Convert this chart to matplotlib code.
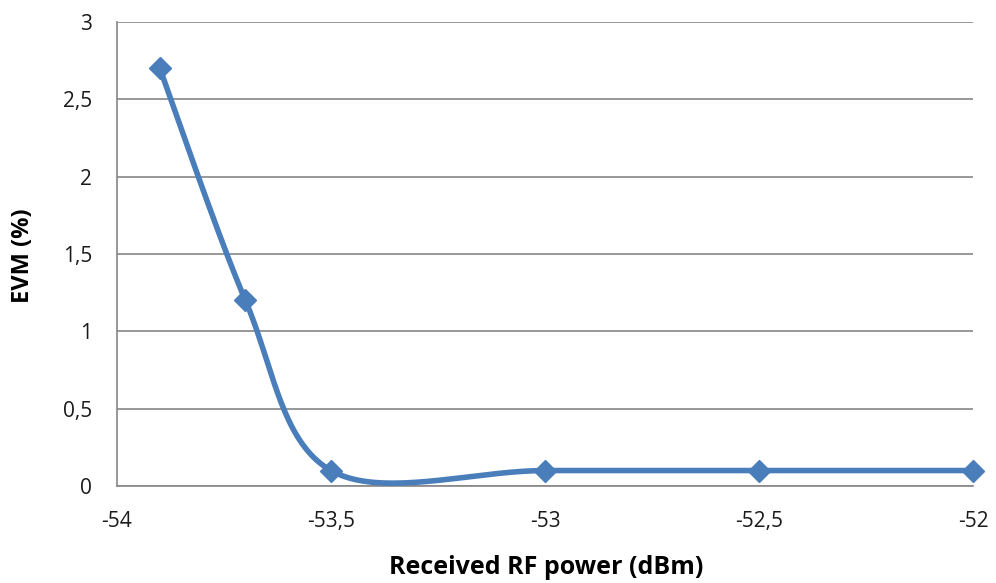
import numpy as np
import matplotlib
matplotlib.use("Agg")
import matplotlib.pyplot as plt

# data
power = [-53.9, -53.7, -53.5, -53.0, -52.5, -52.0]
evm = [2.7, 1.2, 0.1, 0.1, 0.1, 0.1]

xticks = [-54, -53.5, -53, -52.5, -52]
xlabels = ["-54", "-53,5", "-53", "-52,5", "-52"]
yticks = [0, 0.5, 1, 1.5, 2, 2.5, 3]
ylabels = ["0", "0,5", "1", "1,5", "2", "2,5", "3"]


def smooth(x, y, n=40):
    # Excel-like smoothed line: cubic bezier with catmull-rom control points
    p = np.column_stack([x, y]).astype(float)
    p = np.vstack([p[0], p, p[-1]])
    out = []
    t = np.linspace(0, 1, n)[:, None]
    for i in range(1, len(p) - 2):
        p0, p1, p2, p3 = p[i - 1], p[i], p[i + 1], p[i + 2]
        c1 = p1 + (p2 - p0) / 6
        c2 = p2 - (p3 - p1) / 6
        seg = ((1 - t) ** 3) * p1 + 3 * (1 - t) ** 2 * t * c1 + 3 * (1 - t) * t ** 2 * c2 + t ** 3 * p2
        out.append(seg)
    out = np.vstack(out)
    return out[:, 0], out[:, 1]


plt.rcParams['font.family'] = ['Open Sans', 'DejaVu Sans']

fig = plt.figure(figsize=(9.96, 5.83), dpi=100)
ax = fig.add_axes([117 / 996, 1 - 486 / 583, (973 - 117) / 996, (486 - 22) / 583])

blue = "#4a7ebb"
sx, sy = smooth(power, evm)
ax.plot(sx, sy, color=blue, lw=4, solid_capstyle="round", zorder=3)
ax.plot(power, evm, linestyle="none", marker="D", ms=11, color=blue, zorder=4, clip_on=False)

ax.set_xlim(-54, -52)
ax.set_ylim(0, 3)
ax.set_xticks(xticks)
ax.set_xticklabels(xlabels)
ax.set_yticks(yticks)
ax.set_yticklabels(ylabels)
ax.tick_params(length=0, labelsize=15, colors="#1a1a1a")
ax.tick_params(axis="x", pad=18)
ax.tick_params(axis="y", pad=18)

ax.grid(axis="y", color="#868686", lw=1.2)
ax.set_axisbelow(True)
for s in ["top", "right"]:
    ax.spines[s].set_visible(False)
for s in ["left", "bottom"]:
    ax.spines[s].set_color("#868686")
    ax.spines[s].set_linewidth(1.2)

fig.text(546 / 996, 1 - 568 / 583, "Received RF power (dBm)", fontsize=18, fontweight="bold",
         ha="center", va="center")
fig.text(23 / 996, 1 - 256 / 583, "EVM (%)", fontsize=17, fontweight="bold",
         ha="center", va="center", rotation=90)

fig.savefig("out.png", dpi=100)
